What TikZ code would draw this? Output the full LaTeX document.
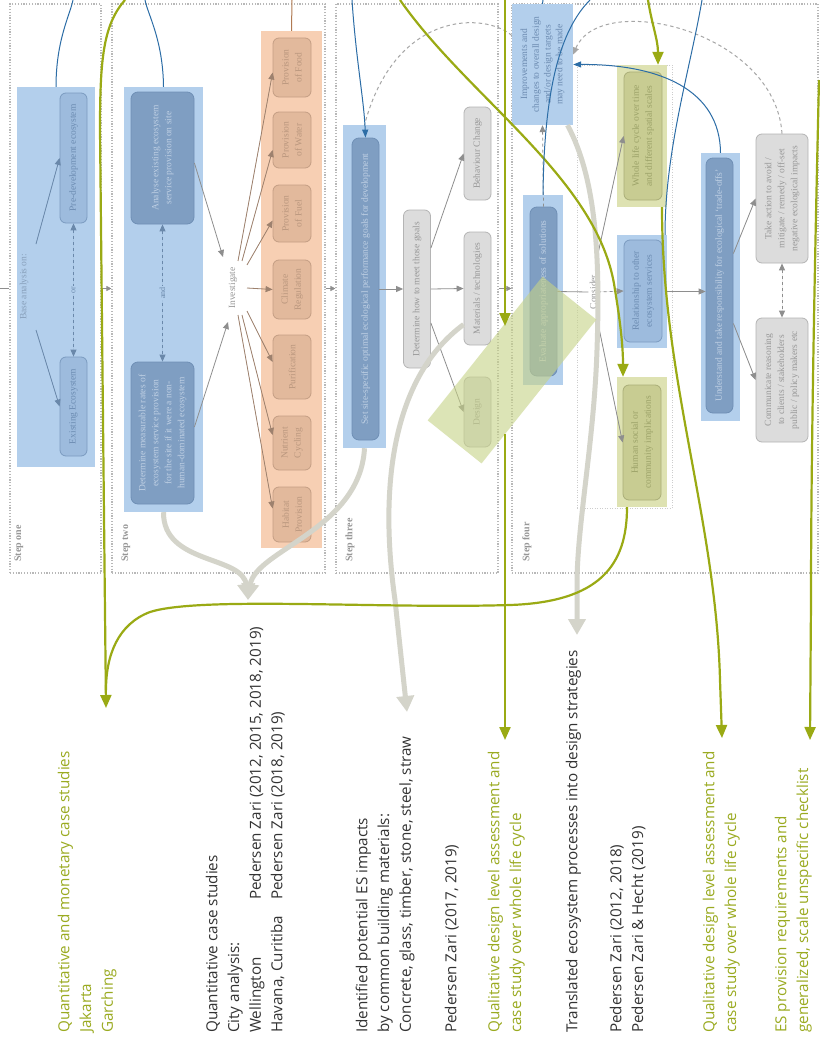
\documentclass[tikz,border=0pt]{standalone}
\usepackage{fontspec}
\setmainfont{Liberation Serif}
\newfontfamily\osans{Open Sans}
\usetikzlibrary{arrows.meta,calc}
\definecolor{dotgray}{HTML}{B8B8B8}
\definecolor{bgblue}{HTML}{B3CFEC}
\definecolor{dbfill}{HTML}{7F9EC2}
\definecolor{dbdraw}{HTML}{6F8FB5}
\definecolor{dbtext}{HTML}{BFD0E4}
\definecolor{mbfill}{HTML}{9DBBDD}
\definecolor{mbdraw}{HTML}{7B9BC0}
\definecolor{mbtext}{HTML}{6C8CB2}
\definecolor{orbg}{HTML}{F7CFB3}
\definecolor{orfill}{HTML}{E2B99C}
\definecolor{ordraw}{HTML}{C49E84}
\definecolor{ortext}{HTML}{BA977E}
\definecolor{gyfill}{HTML}{DCDCDC}
\definecolor{gydraw}{HTML}{B4B4B4}
\definecolor{gytext}{HTML}{989898}
\definecolor{olbg}{HTML}{DEE2B2}
\definecolor{olfill}{HTML}{C8CC92}
\definecolor{oldraw}{HTML}{AAAE78}
\definecolor{oltext}{HTML}{9CA268}
\definecolor{olover}{HTML}{C6D286}
\definecolor{olline}{HTML}{9AAA14}
\definecolor{gline}{HTML}{D4D4CA}
\definecolor{bline}{HTML}{2C6DA6}
\definecolor{arrgray}{HTML}{8E8E8E}
\definecolor{arrblue}{HTML}{6A88AA}
\definecolor{arrbrown}{HTML}{A5826A}
\definecolor{brownline}{HTML}{B07A52}
\definecolor{labgray}{HTML}{8C8C8C}
\definecolor{txt}{HTML}{333333}
\definecolor{oltxt}{HTML}{9AAA20}
\definecolor{imprtext}{HTML}{6B8AB0}
\tikzset{
  panel/.style={draw=dotgray, dash pattern=on 1.2pt off 1.6pt, line width=1.1pt, inner sep=0},
  bgb/.style={fill=bgblue, inner sep=0},
  bgo/.style={fill=olbg, inner sep=0},
  box/.style={rotate=90, line width=0.8pt, align=center, inner sep=1pt, font=\fontsize{9.5}{13}\selectfont},
  dbox/.style={box, rounded corners=7pt, fill=dbfill, draw=dbdraw, text=dbtext},
  mbox/.style={box, rounded corners=6pt, fill=mbfill, draw=mbdraw, text=mbtext},
  obox/.style={box, rounded corners=6pt, fill=orfill, draw=ordraw, text=ortext},
  gbox/.style={box, rounded corners=6pt, fill=gyfill, draw=gydraw, text=gytext},
  lbox/.style={box, rounded corners=6pt, fill=olfill, draw=oldraw, text=oltext},
  lab/.style={rotate=90, inner sep=1pt, font=\fontsize{9.5}{11}\selectfont},
  steplab/.style={rotate=90, anchor=west, inner sep=0, font=\bfseries\fontsize{10}{12}\selectfont, text=labgray!90},
  sa/.style={-{Triangle[width=6pt,length=7pt]}},
  da/.style={{Triangle[width=6pt,length=7pt]}-{Triangle[width=6pt,length=7pt]}},
  ga/.style={sa, draw=arrgray, line width=0.8pt},
  ba/.style={sa, draw=arrblue, fill=arrblue, line width=0.8pt},
  oa/.style={sa, draw=arrbrown!80!gray, fill=arrbrown, line width=0.8pt},
  thickg/.style={draw=gline, line width=5pt, -{Triangle[width=17pt,length=16pt]}},
  oli/.style={draw=olline, line width=2.2pt},
  olia/.style={oli, -{Triangle[width=11pt,length=13pt]}},
  bli/.style={draw=bline, line width=1pt},
  blia/.style={bli, -{Triangle[width=6pt,length=8pt]}},
  dgl/.style={draw=dotgray!90!black, line width=1pt, dash pattern=on 3.5pt off 3pt},
  bt/.style={rotate=90, anchor=north west, inner sep=0, font=\osans\fontsize{15.2}{21.7}\selectfont, text=txt},
  bto/.style={bt, text=oltxt},
}
\begin{document}
\begin{tikzpicture}[x=1pt,y=-1pt]
\useasboundingbox (0,0) rectangle (819,1041);
\fill[white] (0,0) rectangle (819,1041);
% panels
\node[panel, minimum width=91, minimum height=569] (p1) at (55.5,288.5) {};
\node[panel, minimum width=213, minimum height=569] (p2) at (218.5,288.5) {};
\node[panel, minimum width=162, minimum height=569] (p3) at (417,288.5) {};
\node[panel, minimum width=306, minimum height=569] (p4) at (665,288.5) {};
\node[steplab] (s1) at (19,562) {Step one};
\node[steplab] (s2) at (126,562) {Step two};
\node[steplab] (s3) at (350,562) {Step three};
\node[steplab] (s4) at (527,562) {Step four};
% backgrounds
\node[bgb, minimum width=78, minimum height=380] (bg1) at (56,277) {};
\node[bgb, minimum width=79, minimum height=425] (bg2) at (163.5,299.5) {};
\node[fill=orbg, inner sep=0, minimum width=61, minimum height=517] (obg) at (291.5,289.5) {};
\node[bgb, minimum width=43, minimum height=323] (bg3) at (364.5,286.5) {};
\node[bgb, minimum width=40, minimum height=190] (bg4a) at (543,290) {};
\node[draw=dotgray!70, dash pattern=on 1pt off 1.5pt, line width=0.8pt, inner sep=0, minimum width=95, minimum height=443] (cons) at (624.5,286.5) {};
\node[bgo, minimum width=50, minimum height=142] (bgwl) at (642,136) {};
\node[bgb, minimum width=50, minimum height=113] (bgrel) at (642,291.5) {};
\node[bgo, minimum width=50, minimum height=130] (bghum) at (642,442) {};
\node[bgb, minimum width=39, minimum height=268] (bgund) at (720.5,287) {};
% step one
\node[lab, text=arrblue!80] (base) at (24,287) {Base analysis on:};
\node[mbox, minimum width=130, minimum height=27] (predev) at (73.5,158) {Pre-development ecosystem};
\node[mbox, minimum width=99, minimum height=27] (existing) at (73.5,406.5) {Existing Ecosystem};
\draw[ba] ($(base.center)+(12,-43)$) -- (predev.north);
\draw[ba] ($(base.center)+(12,43)$) -- (existing.north);
\draw[draw=arrblue, fill=arrblue, line width=0.9pt, dash pattern=on 3pt off 3pt, da] (predev.west) -- node[lab, fill=bgblue, text=arrblue, font=\fontsize{8}{9}\selectfont] {or} (existing.east);
% step two
\node[dbox, minimum width=132, minimum height=63] (analyse) at (162.5,158) {Analyse existing ecosystem\\service provision on site};
\node[dbox, minimum width=142, minimum height=63] (det1) at (162.5,433) {Determine measurable rates of\\ecosystem service provision\\for the site if it were a non-\\human-dominated ecosystem};
\draw[draw=arrblue, fill=arrblue, line width=0.9pt, dash pattern=on 3pt off 3pt, da] (analyse.west) -- node[lab, fill=bgblue, text=arrblue, font=\fontsize{8}{9}\selectfont] {and} (det1.east);
\node[lab, text=gytext] (inv) at (233,288) {Investigate};
\draw[ga] ($(analyse.south)+(0,5)$) -- ($(inv.center)+(-10,-31)$);
\draw[ga] ($(det1.south)+(0,-6)$) -- ($(inv.center)+(-5,34)$);
\node[obox, minimum width=59, minimum height=38] (food) at (292,67.5) {Provision\\of Food};
\node[obox, minimum width=56, minimum height=38] (water) at (292,140) {Provision\\of Water};
\node[obox, minimum width=57, minimum height=38] (fuel) at (292,213.5) {Provision\\of Fuel};
\node[obox, minimum width=59, minimum height=38] (climate) at (292,289.5) {Climate\\Regulation};
\node[obox, minimum width=64, minimum height=38] (purif) at (292,367) {Purification};
\node[obox, minimum width=54, minimum height=38] (nutrient) at (292,443) {Nutrient\\Cycling};
\node[obox, minimum width=55, minimum height=38] (habitat) at (292,514.5) {Habitat\\Provision};
\draw[oa] ($(inv.east)+(5,-5)$) -- ($(food.north)+(0,5)$);
\draw[oa] ($(inv.east)+(9,-5)$) -- ($(water.north)+(0,10)$);
\draw[oa] ($(inv.east)+(14,-1)$) -- ($(fuel.north)+(0,7)$);
\draw[oa] ($(inv.center)+(14,0)$) -- (climate.north);
\draw[oa] ($(inv.west)+(14,1)$) -- ($(purif.north)+(0,-5)$);
\draw[oa] ($(inv.west)+(9,5)$) -- ($(nutrient.north)+(0,-8)$);
\draw[oa] ($(inv.west)+(5,5)$) -- ($(habitat.north)+(0,-6)$);
% step three
\node[dbox, minimum width=302, minimum height=27] (goals) at (365.5,289) {Set site-specific optimal ecological performance goals for development};
\node[gbox, minimum width=158, minimum height=27] (howmeet) at (417,289) {Determine how to meet those goals};
\node[gbox, minimum width=93, minimum height=27] (behav) at (477.5,153.5) {Behaviour Change};
\node[gbox, minimum width=113, minimum height=27] (mater) at (477.5,288.5) {Materials / technologies};
\node[gbox, minimum width=70, minimum height=27] (design) at (477.5,412) {Design};
\draw[ga] (goals.south) -- (howmeet.north);
\draw[ga] (howmeet.south) -- (mater.north);
\draw[ga] ($(howmeet.south)+(0,-41)$) -- (behav.north);
\draw[ga] ($(howmeet.south)+(0,34)$) -- (design.north);
% step four
\node[rotate=90, fill=bgblue, inner sep=0, minimum width=121, minimum height=61, align=center, text=imprtext, font=\fontsize{9.5}{11.7}\selectfont] (impr) at (542.5,64.5) {Improvements and\\changes to overall design\\and/or design targets\\may need to be made};
\node[dbox, minimum width=169, minimum height=27] (eval) at (543.5,291.5) {Evaluate appropriateness of solutions};
\node[lab, text=gytext] (consider) at (593,292) {Consider};
\node[lbox, minimum width=128, minimum height=38] (wl) at (643,136) {Whole life cycle over time\\and different spatial scales};
\node[mbox, minimum width=102, minimum height=38] (rel) at (643,291) {Relationship to other\\ecosystem services};
\node[lbox, minimum width=115, minimum height=38] (human) at (642,442.5) {Human social or\\community implications};
\node[dbox, minimum width=255, minimum height=27] (und) at (719.5,285.5) {Understand and take responsibility for ecological `trade-offs'};
\node[gbox, minimum width=129, minimum height=52] (ta) at (782,198.5) {Take action to avoid /\\mitigate / remedy / off-set\\negative ecological impacts};
\node[gbox, minimum width=124, minimum height=52] (comm) at (782,380) {Communicate reasoning\\to clients / stakeholders\\public / policy makers etc};
\draw[ga, dash pattern=on 3pt off 3pt] (eval.east) -- (impr.west);
\draw[draw=arrgray, line width=0.8pt] (eval.south) -- (consider.north);
\draw[ga, fill=arrgray, dash pattern=on 3pt off 3pt] (consider.south) -- (rel.north);
\draw[ga, fill=arrgray] ($(consider.east)+(5,-20)$) -- (wl.north);
\draw[ga, fill=arrgray] ($(consider.west)+(4,8)$) -- (human.north);
\draw[ga, fill=arrgray] (bgrel.east) -- (bgrel.east -| und.north);
\draw[ga, fill=arrgray] ($(und.south)+(0,-32)$) -- (ta.north);
\draw[ga, fill=arrgray] ($(und.south)+(0,38)$) -- (comm.north);
\draw[draw=arrgray, fill=arrgray, line width=0.9pt, dash pattern=on 3pt off 3pt, da] (ta.west) -- (comm.east);
% panel connectors
\coordinate (leftin) at (0,288.5);
\draw[draw=arrgray, line width=0.8pt] (leftin) -- (p1.west);
\draw[draw=arrgray, line width=0.6pt, -{Triangle[width=5pt,length=5pt]}] (p1.east) -- (p2.west);
\draw[draw=arrgray, line width=0.6pt, -{Triangle[width=5pt,length=5pt]}] (p2.east) -- (p3.west);
\draw[draw=arrgray, line width=0.6pt, -{Triangle[width=5pt,length=5pt]}] (p3.east) -- (p4.west);
% dashed feedback arcs
\draw[dgl] ($(impr.north)+(0,-29)$) .. controls (485,12) and (395,10) .. (bg3.north);
\draw[dgl, -{Triangle[width=6pt,length=7pt]}] (ta.east) .. controls (775,30) and (600,-10) .. ($(impr.south)+(0,-10)$);
% coordinates
\coordinate (topA) at (125,0);
\coordinate (topb1) at (73,0);
\coordinate (topb2) at (145,0);
\coordinate (topbr) at (292,0);
\coordinate (topb3) at (352,0);
\coordinate (topO2) at (400,0);
\coordinate (topO3) at (505,0);
\coordinate (topb4) at (543,0);
\coordinate (topb5) at (590,0);
\coordinate (topO4) at (648,0);
\coordinate (topb6) at (702,0);
\coordinate (rightO5) at (819,80);
\coordinate (tipA) at (106,708);
\coordinate (tipB) at (248,600);
\coordinate (tipC) at (407,712);
\coordinate (tipE) at (505,740);
\coordinate (tipF) at (577,635);
\coordinate (tipH) at (722,738);
\coordinate (tipI) at (810,740);
\coordinate (o3a) at (505,326);
\coordinate (o3b) at (505,434);
% gray thick curves
\draw[thickg] (bg2.south) .. controls (163,565) and (243,555) .. (tipB);
\draw[thickg] (bg3.south) .. controls (360,530) and (255,550) .. (tipB);
\draw[thickg] ($(mater.north)+(0,36)$) .. controls (395,375) and (378,480) .. (395,600) -- (tipC);
\draw[thickg] ($(impr.west)+(25,0)$) .. controls (597,180) and (600,260) .. (597,350) .. controls (594,440) and (578,520) .. (577,580) -- (tipF);
% olive overlay
\node[fill=olover, opacity=0.6, rotate=51.4, minimum width=184, minimum height=69, inner sep=0] (designzone) at (512,370) {};
% brown line
\draw[draw=brownline, line width=1pt] (obg.north) -- (topbr);
% olive lines
\draw[olia] (topA) .. controls (103,25) and (100,60) .. (100,130) -- (tipA);
\draw[oli] ($(bghum.south)+(-15,0)$) .. controls (627,565) and (600,602) .. (510,605) .. controls (380,609) and (200,596) .. (150,612) .. controls (118,624) and (106,655) .. (106,690);
\draw[olia] (topO2) .. controls (470,100) and (600,180) .. (615,290) .. controls (620,320) and (623,345) .. ($(bghum.north)+(-19,0)$);
\draw[olia] (topO3) -- (o3a);
\draw[olia] (o3b) -- (tipE);
\draw[olia] (topO4) .. controls (652,25) and (658,40) .. ($(bgwl.north)+(16,0)$);
\draw[olia] ($(bgwl.south)+(20,0)$) .. controls (662,380) and (716,520) .. (720,680) -- (tipH);
\draw[olia] (rightO5) .. controls (815,250) and (811,450) .. (811,600) -- (tipI);
% blue lines
\draw[bli] (bg1.north) .. controls (56,40) and (70,15) .. (topb1);
\draw[bli] (bg2.north) .. controls (163,40) and (148,15) .. (topb2);
\draw[blia] (topb3) .. controls (356,60) and (364,100) .. (goals.east);
\draw[bli] (topb4) -- (impr.east);
\draw[bli] (bg4a.north) .. controls (544,90) and (560,30) .. (topb5);
\draw[bli] (topb6) .. controls (690,70) and (665,150) .. ($(bgrel.north)+(23,0)$);
\draw[blia] (bgund.north) .. controls (720,90) and (660,64) .. (impr.south);
% bottom texts
\node[bto] (tA) at (54,1033) {\begin{tabular}{@{}l@{}}Quantitative and monetary case studies\\Jakarta\\Garching\end{tabular}};
\node[bt] (tB) at (202,1033) {\begin{tabular}{@{}p{133pt}@{}l@{}}\multicolumn{2}{@{}l@{}}{Quantitative case studies}\\\multicolumn{2}{@{}l@{}}{City analysis:}\\Wellington & Pedersen Zari (2012, 2015, 2018, 2019)\\Havana, Curitiba & Pedersen Zari (2018, 2019)\end{tabular}};
\node[bt] (tC) at (352,1033) {\begin{tabular}{@{}l@{}}Identified potential ES impacts\\by common building materials:\\Concrete, glass, timber, stone, steel, straw\end{tabular}};
\node[bt] (tD) at (441,1033) {\begin{tabular}{@{}l@{}}Pedersen Zari (2017, 2019)\end{tabular}};
\node[bto] (tE) at (484,1033) {\begin{tabular}{@{}l@{}}Qualitative design level assessment and\\case study over whole life cycle\end{tabular}};
\node[bt] (tF) at (562,1033) {\begin{tabular}{@{}l@{}}Translated ecosystem processes into design strategies\end{tabular}};
\node[bt] (tG) at (606,1033) {\begin{tabular}{@{}l@{}}Pedersen Zari (2012, 2018)\\Pedersen Zari \& Hecht (2019)\end{tabular}};
\node[bto] (tH) at (699,1033) {\begin{tabular}{@{}l@{}}Qualitative design level assessment and\\case study over whole life cycle\end{tabular}};
\node[bto] (tI) at (771,1033) {\begin{tabular}{@{}l@{}}ES provision requirements and\\generalized, scale unspecific checklist\end{tabular}};
\end{tikzpicture}
\end{document}
